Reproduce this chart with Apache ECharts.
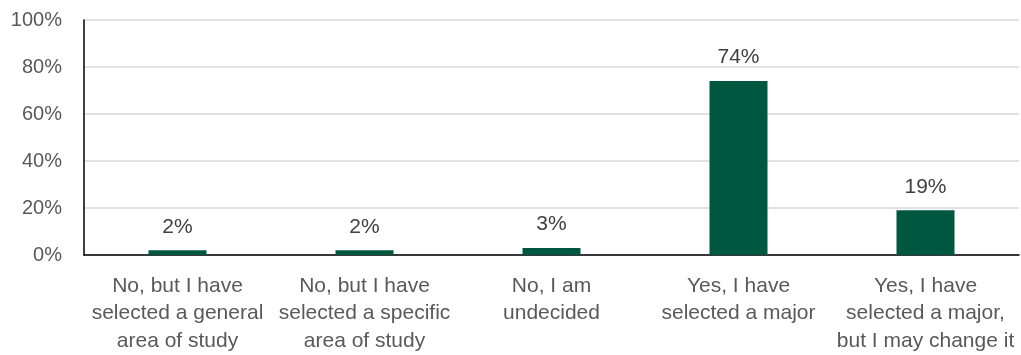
<!DOCTYPE html>
<html>
<head>
<meta charset="utf-8">
<script src="https://cdn.jsdelivr.net/npm/echarts@6/dist/echarts.min.js"></script>
<style>html,body{margin:0;padding:0;background:#fff}#c{width:1021px;height:355px}</style>
</head>
<body>
<div id="c"></div>
<script>
const categories = [
  "No, but I have\nselected a general\narea of study",
  "No, but I have\nselected a specific\narea of study",
  "No, I am\nundecided",
  "Yes, I have\nselected a major",
  "Yes, I have\nselected a major,\nbut I may change it"
];
const values = [2, 2, 3, 74, 19];
const yTicks = [0, 20, 40, 60, 80, 100];

const FONT = '"Liberation Sans", Arial, sans-serif';
const chart = echarts.init(document.getElementById('c'), null, {renderer: 'canvas'});
chart.setOption({
  animation: false,
  grid: {left: 84, right: 2, top: 20, bottom: 100},
  xAxis: {
    type: 'category',
    data: categories,
    axisLine: {lineStyle: {color: '#000', width: 1.5}},
    axisTick: {show: false},
    axisLabel: {color: '#595959', fontSize: 21, fontFamily: FONT, lineHeight: 27.5, margin: 17, interval: 0}
  },
  yAxis: {
    type: 'value',
    min: yTicks[0], max: yTicks[yTicks.length - 1], interval: 20,
    axisLine: {show: true, lineStyle: {color: '#000', width: 1.5}},
    axisTick: {show: false},
    splitLine: {lineStyle: {color: '#d9d9d9', width: 1.5}},
    axisLabel: {color: '#595959', fontSize: 20, fontFamily: FONT, margin: 22, formatter: v => v + '%'}
  },
  series: [{
    type: 'bar',
    data: values,
    barWidth: 58,
    itemStyle: {color: '#00573f'},
    label: {show: true, position: 'top', distance: 13, color: '#404040', fontSize: 21, fontFamily: FONT, formatter: p => p.value + '%'}
  }]
});
</script>
</body>
</html>
